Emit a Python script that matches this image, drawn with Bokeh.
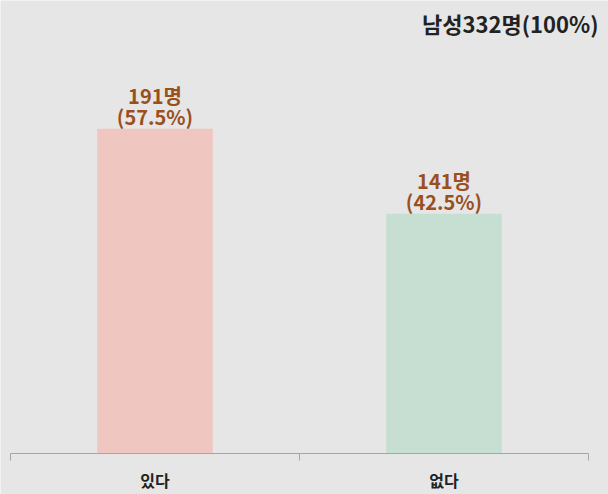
from bokeh.plotting import figure
from bokeh.models import Range1d, FixedTicker, Label, ColumnDataSource
from bokeh.core.properties import value
from bokeh.embed import file_html
from bokeh.resources import INLINE

categories = ["있다", "없다"]
counts = [191, 141]
count_labels = ["191명", "141명"]
pct_labels = ["(57.5%)", "(42.5%)"]
bar_colors = ["#f0c6c1", "#c7dfd2"]
title_text = "남성332명(100%)"

FONT = "Noto Sans CJK KR"
BG = "#e6e6e6"

W, H = 608, 494
left_px, right_px, base_px = 10, 588, 453
n = len(categories)
px_per_cat = (right_px - left_px) / n
px_per_unit = 1.70

xs = [i + 0.5 for i in range(n)]
src = ColumnDataSource(dict(x=xs, top=counts, color=bar_colors,
                            cnt=count_labels, pct=pct_labels))

p = figure(width=W, height=H, output_backend="svg", toolbar_location=None,
           x_range=Range1d(-left_px / px_per_cat, n + (W - right_px) / px_per_cat),
           y_range=Range1d(-(H - base_px) / px_per_unit, base_px / px_per_unit),
           min_border=0)
p.background_fill_color = BG
p.border_fill_color = BG
p.outline_line_color = None
p.grid.visible = False
p.yaxis.visible = False

p.vbar(x="x", top="top", width=0.4, bottom=0, color="color", line_color=None, source=src)

p.text(x="x", y="top", text="pct", source=src, y_offset=-12,
       text_align="center", text_baseline="middle", text_color="#9b4f1e",
       text_font=value(FONT), text_font_size="20px", text_font_style="bold")
p.text(x="x", y="top", text="cnt", source=src, y_offset=-33,
       text_align="center", text_baseline="middle", text_color="#9b4f1e",
       text_font=value(FONT), text_font_size="20px", text_font_style="bold")

ax = p.xaxis[0]
ax.fixed_location = 0
ax.bounds = (0, n)
ax.ticker = FixedTicker(ticks=xs, minor_ticks=list(range(n + 1)))
ax.major_label_overrides = {x: c for x, c in zip(xs, categories)}
ax.major_tick_line_color = None
ax.major_tick_out = 0
ax.major_tick_in = 0
ax.minor_tick_out = 7
ax.minor_tick_in = 0
ax.minor_tick_line_color = "#a6a6a6"
ax.axis_line_color = "#a6a6a6"
ax.major_label_text_font = FONT
ax.major_label_text_font_size = "16px"
ax.major_label_text_font_style = "bold"
ax.major_label_text_color = "#222222"
ax.major_label_standoff = 7

p.add_layout(Label(x=(598 - left_px) / px_per_cat, y=(base_px - 22) / px_per_unit,
                   text=title_text, text_align="right",
                   text_baseline="middle", text_font=FONT, text_font_size="22px",
                   text_font_style="bold", text_color="#222222"))

open("out.html", "w").write(file_html(p, INLINE))
